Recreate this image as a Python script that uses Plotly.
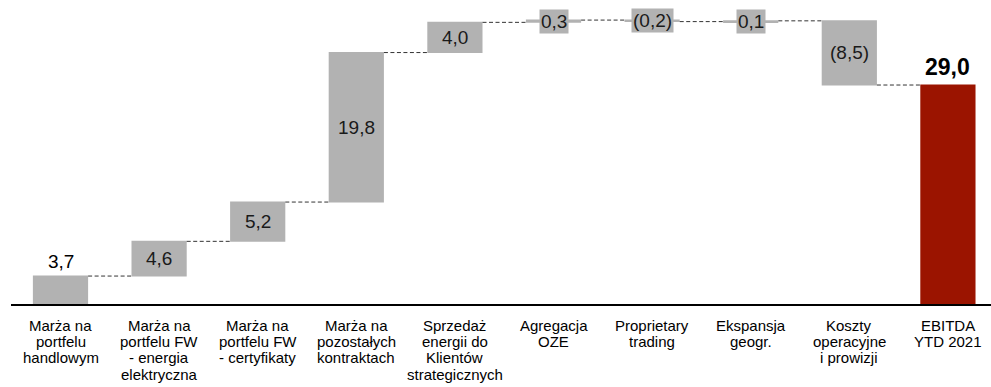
import plotly.graph_objects as go

# EBITDA bridge components (mln PLN)
categories = [
    "Marża na<br>portfelu<br>handlowym",
    "Marża na<br>portfelu FW<br>- energia<br>elektryczna",
    "Marża na<br>portfelu FW<br>- certyfikaty",
    "Marża na<br>pozostałych<br>kontraktach",
    "Sprzedaż<br>energii do<br>Klientów<br>strategicznych",
    "Agregacja<br>OZE",
    "Proprietary<br>trading",
    "Ekspansja<br>geogr.",
    "Koszty<br>operacyjne<br>i prowizji",
    "EBITDA<br>YTD 2021",
]
values = [3.7, 4.6, 5.2, 19.8, 4.0, 0.3, -0.2, 0.1, -8.5, 29.0]
measures = ["relative"] * 9 + ["total"]

GRAY = "#b2b2b2"
RED = "#9b1400"
FONT = "Arial, Liberation Sans, sans-serif"


def fmt(v):
    s = f"{abs(v):.1f}".replace(".", ",")
    return f"({s})" if v < 0 else s


xs = list(range(len(categories)))

fig = go.Figure(go.Waterfall(
    x=xs,
    y=values,
    measure=measures,
    width=0.56,
    increasing=dict(marker=dict(color=GRAY, line=dict(width=0))),
    decreasing=dict(marker=dict(color=GRAY, line=dict(width=0))),
    totals=dict(marker=dict(color=RED, line=dict(width=0))),
    connector=dict(mode="between", line=dict(color="#333333", width=1, dash="4px,2.5px")),
    hoverinfo="skip",
))

# value labels: above the first and the total bar, centred on the others
annotations = []
running = 0.0
for i, (v, m) in enumerate(zip(values, measures)):
    if m == "total":
        lo, hi = 0.0, v
    else:
        lo, hi = sorted([running, running + v])
        running += v
    if i == 0:
        annotations.append(dict(x=i, y=hi, text=fmt(v), showarrow=False, yanchor="middle",
                                yshift=15, font=dict(family=FONT, size=19, color="#000")))
    elif m == "total":
        annotations.append(dict(x=i, y=hi, text=f"<b>{fmt(v)}</b>", showarrow=False,
                                yanchor="middle", yshift=18,
                                font=dict(family=FONT, size=23, color="#000")))
    else:
        annotations.append(dict(x=i, y=(lo + hi) / 2, text=fmt(v), showarrow=False,
                                yanchor="middle", bgcolor=GRAY, borderpad=1,
                                font=dict(family=FONT, size=19, color="#1a1a1a")))

# category labels, one annotation per line for tight line spacing
LINE_STEP = 16.4
for i, cat in enumerate(categories):
    for j, line in enumerate(cat.split("<br>")):
        annotations.append(dict(x=i, xref="x", y=0, yref="paper", text=line,
                                showarrow=False, xanchor="center", yanchor="middle",
                                yshift=-(21 + LINE_STEP * j),
                                font=dict(family=FONT, size=15, color="#000")))

fig.update_layout(
    width=991,
    height=387,
    margin=dict(l=11, r=0, t=0, b=83),
    paper_bgcolor="white",
    plot_bgcolor="white",
    showlegend=False,
    annotations=annotations,
    xaxis=dict(
        range=[-0.502, 9.437],
        showline=True,
        linecolor="black",
        linewidth=2,
        showgrid=False,
        zeroline=False,
        ticks="",
        showticklabels=False,
    ),
    yaxis=dict(range=[0, 40.26], visible=False),
)

fig.write_html("out.html")
